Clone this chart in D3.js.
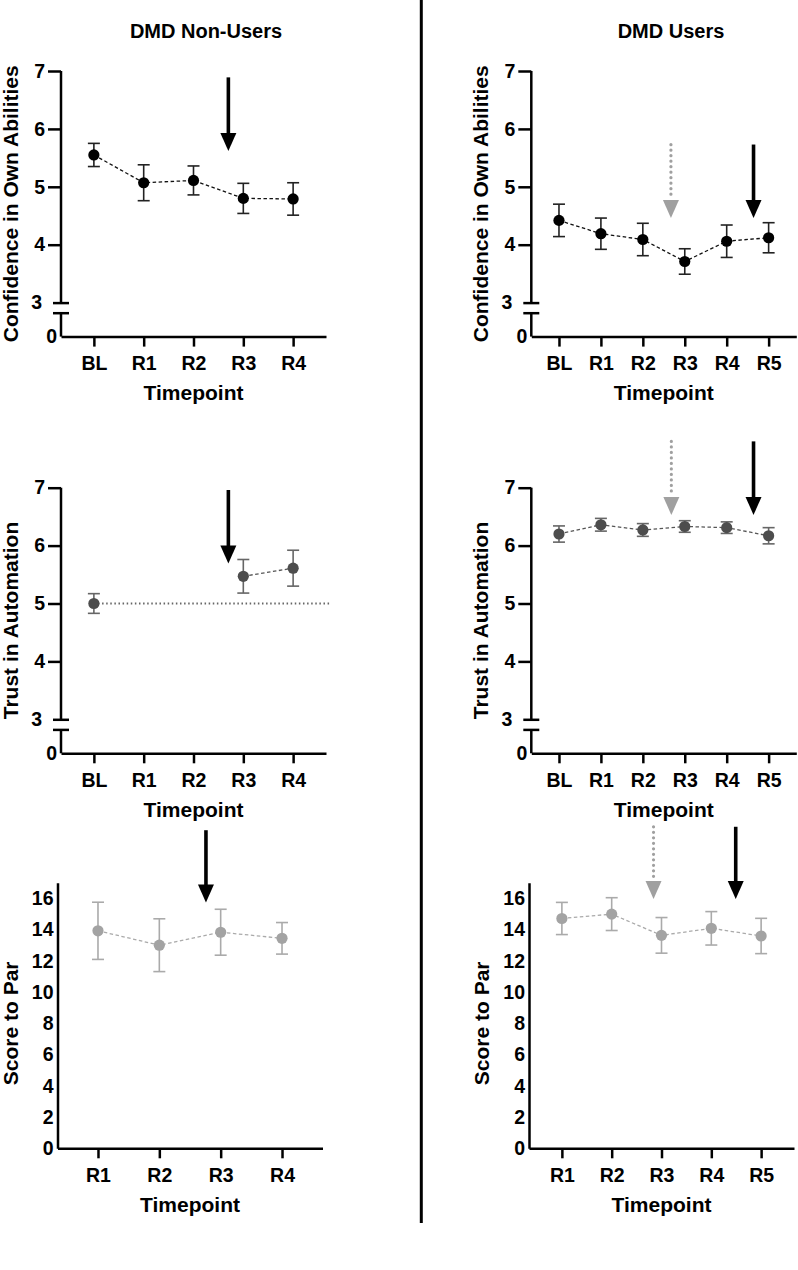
<!DOCTYPE html>
<html>
<head>
<meta charset="utf-8">
<script src="https://cdn.jsdelivr.net/npm/d3@7"></script>
<style>
  body { margin: 0; background: #fff; }
  svg text { font-family: "Liberation Sans", Arial, sans-serif; font-weight: bold; fill: #000; }
</style>
</head>
<body>
<svg id="fig" width="798" height="1270"></svg>
<script>
// Timepoints
const tpNonUsers = ['BL', 'R1', 'R2', 'R3', 'R4'];
const tpUsers = ['BL', 'R1', 'R2', 'R3', 'R4', 'R5'];
const tpScoreNonUsers = ['R1', 'R2', 'R3', 'R4'];
const tpScoreUsers = ['R1', 'R2', 'R3', 'R4', 'R5'];

// Confidence in own abilities (mean, SEM)
const confNonMean = [5.55, 5.07, 5.11, 4.80, 4.79];
const confNonSem  = [0.20, 0.31, 0.25, 0.26, 0.28];
const confUsMean  = [4.42, 4.19, 4.09, 3.71, 4.06, 4.12];
const confUsSem   = [0.28, 0.27, 0.28, 0.22, 0.28, 0.26];

// Trust in automation (non-users only rated BL, R3, R4)
const trustNonMean = [5.00, null, null, 5.47, 5.61];
const trustNonSem  = [0.17, null, null, 0.29, 0.31];
const trustUsMean  = [6.20, 6.36, 6.27, 6.33, 6.31, 6.17];
const trustUsSem   = [0.14, 0.11, 0.11, 0.10, 0.10, 0.14];
const trustNonRef  = 5.0;   // baseline reference level

// Score to par
const scoreNonMean = [13.92, 13.00, 13.83, 13.44];
const scoreNonSem  = [1.83, 1.69, 1.47, 1.01];
const scoreUsMean  = [14.71, 14.99, 13.63, 14.08, 13.59];
const scoreUsSem   = [1.03, 1.05, 1.14, 1.07, 1.13];

// Tick labels
const ticksLikert = [0, 3, 4, 5, 6, 7];
const ticksScore = [0, 2, 4, 6, 8, 10, 12, 14, 16];

const svg = d3.select('#fig');
const W = 265, H = 265.6;        // plot size
const font = 19.5;

// Column titles and divider
svg.append('text').attr('x', 206).attr('y', 38).attr('text-anchor', 'middle')
  .style('font-size', '20px').text('DMD Non-Users');
svg.append('text').attr('x', 671).attr('y', 38).attr('text-anchor', 'middle')
  .style('font-size', '20px').text('DMD Users');
svg.append('line').attr('x1', 421.3).attr('x2', 421.3).attr('y1', 0).attr('y2', 1223)
  .attr('stroke', '#000').attr('stroke-width', 3);

const styles = {
  black: { fill: '#000', err: '#222', line: '#111' },
  dark:  { fill: '#4d4d4d', err: '#666', line: '#555' },
  light: { fill: '#a3a3a3', err: '#aaa', line: '#aaa' }
};

function drawPanel(p) {
  const g = svg.append('g').attr('transform', `translate(${p.x},${p.y})`);
  const x = d3.scalePoint().domain(p.cats).range([0, W]).padding(0.66);
  let y;
  if (p.broken) {
    y = d3.scaleLinear().domain([0, 3, 7]).range([H, H - 34, 0]);
  } else {
    y = d3.scaleLinear().domain([0, 17]).range([H, 0]);
  }

  // y axis
  const ya = g.append('g').call(d3.axisLeft(y).tickValues(p.ticks).tickFormat(d3.format('d'))
    .tickSize(p.broken ? 13 : 0).tickPadding(p.broken ? 3 : 4).tickSizeOuter(0));
  ya.selectAll('text').style('font-size', font + 'px');
  ya.selectAll('line, path').attr('stroke', '#000').attr('stroke-width', 2.5);
  if (p.broken) {
    ya.select('.domain').remove();
    const gap = 10.6;
    ya.selectAll('.tick').filter(d => d === 0).select('line').remove();
    ya.selectAll('.tick').filter(d => d === 0).select('text').attr('x', -4);
    ya.selectAll('.tick').filter(d => d === 3).select('line').attr('x1', 8).attr('x2', -8);
    ya.selectAll('.tick').filter(d => d === 3).select('text').attr('x', -19);
    ya.append('line').attr('x1', 0).attr('x2', 0).attr('y1', y(7)).attr('y2', y(3))
      .attr('stroke', '#000').attr('stroke-width', 2.5);
    ya.append('line').attr('x1', 0).attr('x2', 0).attr('y1', y(3) + gap).attr('y2', y(0))
      .attr('stroke', '#000').attr('stroke-width', 2.5);
    ya.append('line').attr('x1', -8).attr('x2', 8).attr('y1', y(3) + gap).attr('y2', y(3) + gap)
      .attr('stroke', '#000').attr('stroke-width', 2.5);
  }

  // x axis
  const xa = g.append('g').attr('transform', `translate(0,${H})`)
    .call(d3.axisBottom(x).tickSize(10).tickPadding(10).tickSizeOuter(0));
  xa.selectAll('text').style('font-size', font + 'px');
  xa.selectAll('line, path').attr('stroke', '#000').attr('stroke-width', 2.5);

  // axis titles
  g.append('text').attr('x', W / 2).attr('y', H + 63.5).attr('text-anchor', 'middle')
    .style('font-size', '21px').text('Timepoint');
  const midY = p.broken ? H / 2 : y(8);
  g.append('text').attr('transform', `translate(${p.titleOff},${midY}) rotate(-90)`)
    .attr('text-anchor', 'middle').style('font-size', '21px').text(p.ytitle);

  const st = styles[p.style];
  const pts = p.cats.map((c, i) => ({ c, m: p.mean[i], s: p.sem[i] }));

  // reference line
  if (p.ref != null) {
    g.append('line').attr('x1', x(p.cats[0])).attr('x2', W + 3.5)
      .attr('y1', y(p.ref)).attr('y2', y(p.ref))
      .attr('stroke', '#666').attr('stroke-width', 2).attr('stroke-dasharray', '1.5,2.6');
  }

  // dashed connecting line
  g.append('path').datum(pts)
    .attr('d', d3.line().defined(d => d.m != null).x(d => x(d.c)).y(d => y(d.m)))
    .attr('fill', 'none').attr('stroke', st.line).attr('stroke-width', 1.3)
    .attr('stroke-dasharray', '3.5,2.5');

  const valid = pts.filter(d => d.m != null);
  const eb = g.selectAll('.eb').data(valid).enter().append('g')
    .attr('stroke', st.err).attr('stroke-width', 1.6);
  eb.append('line').attr('x1', d => x(d.c)).attr('x2', d => x(d.c))
    .attr('y1', d => y(d.m + d.s)).attr('y2', d => y(d.m - d.s));
  eb.append('line').attr('x1', d => x(d.c) - 6).attr('x2', d => x(d.c) + 6)
    .attr('y1', d => y(d.m + d.s)).attr('y2', d => y(d.m + d.s));
  eb.append('line').attr('x1', d => x(d.c) - 6).attr('x2', d => x(d.c) + 6)
    .attr('y1', d => y(d.m - d.s)).attr('y2', d => y(d.m - d.s));

  g.selectAll('.pt').data(valid).enter().append('circle')
    .attr('cx', d => x(d.c)).attr('cy', d => y(d.m)).attr('r', 5.6)
    .attr('fill', st.fill);

  // arrows: position in category-index units, top / tip in value units
  const step = x.step();
  p.arrows.forEach(a => {
    const ax = x(p.cats[0]) + a.at * step;
    const top = y(a.from), tip = y(a.to);
    const headLen = 18, headHalf = 8;
    const col = a.dotted ? '#a0a0a0' : '#000';
    const shaft = g.append('line').attr('x1', ax).attr('x2', ax)
      .attr('y1', top).attr('y2', tip - headLen + (a.dotted ? -4 : 1))
      .attr('stroke', col);
    if (a.dotted) {
      shaft.attr('stroke-width', 3.2).attr('stroke-linecap', 'round').attr('stroke-dasharray', '0.1,5.4');
    } else {
      shaft.attr('stroke-width', 3.6);
    }
    g.append('path')
      .attr('d', `M${ax - headHalf},${tip - headLen}L${ax + headHalf},${tip - headLen}L${ax},${tip}Z`)
      .attr('fill', col);
  });
}

drawPanel({ x: 61, y: 71, cats: tpNonUsers, mean: confNonMean, sem: confNonSem, broken: true,
  ticks: ticksLikert, style: 'black', ytitle: 'Confidence in Own Abilities', titleOff: -42.7,
  arrows: [{ at: 2.7, from: 6.89, to: 5.62 }] });
drawPanel({ x: 531.3, y: 71, cats: tpUsers, mean: confUsMean, sem: confUsSem, broken: true,
  ticks: ticksLikert, style: 'black', ytitle: 'Confidence in Own Abilities', titleOff: -43,
  arrows: [{ at: 2.67, from: 5.73, to: 4.46, dotted: true }, { at: 4.64, from: 5.73, to: 4.46 }] });
drawPanel({ x: 61, y: 487.7, cats: tpNonUsers, mean: trustNonMean, sem: trustNonSem, broken: true,
  ticks: ticksLikert, style: 'dark', ytitle: 'Trust in Automation', titleOff: -42.7, ref: trustNonRef,
  arrows: [{ at: 2.7, from: 6.96, to: 5.69 }] });
drawPanel({ x: 531.3, y: 487.7, cats: tpUsers, mean: trustUsMean, sem: trustUsSem, broken: true,
  ticks: ticksLikert, style: 'dark', ytitle: 'Trust in Automation', titleOff: -43,
  arrows: [{ at: 2.68, from: 7.8, to: 6.53, dotted: true }, { at: 4.64, from: 7.8, to: 6.53 }] });
drawPanel({ x: 57.5, y: 882.7, cats: tpScoreNonUsers, mean: scoreNonMean, sem: scoreNonSem, broken: false,
  ticks: ticksScore, style: 'light', ytitle: 'Score to Par', titleOff: -39.5,
  arrows: [{ at: 1.76, from: 20.36, to: 15.74 }] });
drawPanel({ x: 529, y: 882.7, cats: tpScoreUsers, mean: scoreUsMean, sem: scoreUsSem, broken: false,
  ticks: ticksScore, style: 'light', ytitle: 'Score to Par', titleOff: -40.5,
  arrows: [{ at: 1.84, from: 20.58, to: 15.95, dotted: true }, { at: 3.49, from: 20.58, to: 15.95 }] });
</script>
</body>
</html>
